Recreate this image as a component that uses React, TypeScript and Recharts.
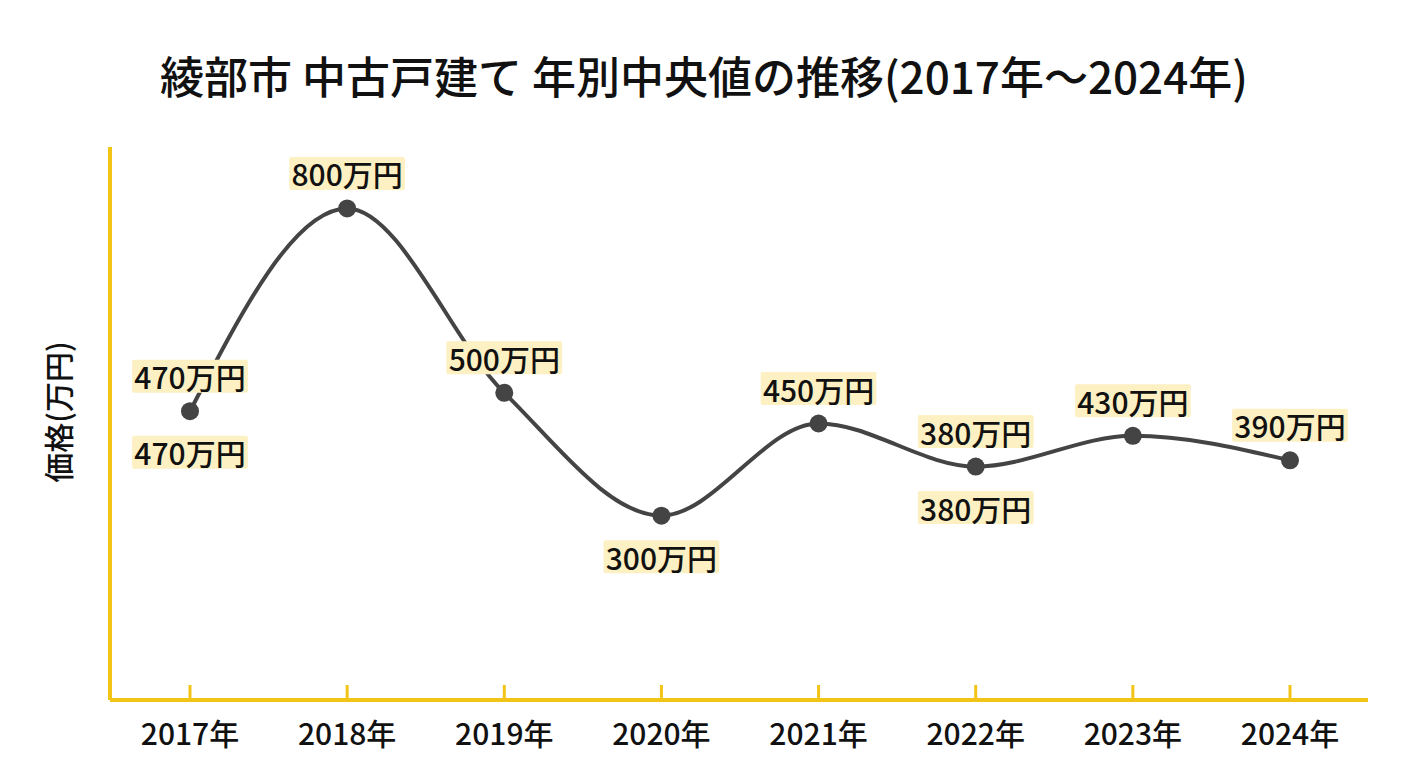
import React from 'react'
import { LineChart, Line, XAxis, YAxis, LabelList } from 'recharts'

const years = ['2017年', '2018年', '2019年', '2020年', '2021年', '2022年', '2023年', '2024年']
const prices = [470, 800, 500, 300, 450, 380, 430, 390]
// which points carry a label above / below the marker
const labelAbove = [true, true, true, false, true, true, true, true]
const labelBelow = [true, false, false, true, false, true, false, false]

const data = years.map((year, i) => ({ year, price: prices[i] }))

const FONT = '"Noto Sans CJK JP", "Noto Sans", sans-serif'
const AXIS = '#F2C417'
const LINE = '#444444'
const LABEL_BG = '#FDF0C2'

const makeLabel = (flags: boolean[], dy: number) => (props: any) => {
  const { x, y, value, index } = props
  if (!flags[index]) return null
  const text = `${value}万円`
  const fs = 30
  const w = String(value).length * fs * 0.553 + fs * 2 + 6
  const h = 33
  const cy = y + dy
  return (
    <g>
      <rect x={x - w / 2} y={cy - h / 2} width={w} height={h} fill={LABEL_BG} rx={2} />
      <text
        x={x}
        y={cy}
        textAnchor="middle"
        dominantBaseline="central"
        fontSize={fs}
        fontWeight={500}
        fill="#111"
        fontFamily={FONT}
      >
        {text}
      </text>
    </g>
  )
}

const YearTick = (props: any) => {
  const { x, y, payload } = props
  return (
    <g>
      <line x1={x} y1={y} x2={x} y2={y - 15} stroke={AXIS} strokeWidth={3} />
      <text
        x={x}
        y={y + 45}
        textAnchor="middle"
        fontSize={30}
        fontWeight={500}
        fill="#111"
        fontFamily={FONT}
      >
        {payload.value}
      </text>
    </g>
  )
}

export default function App() {
  return (
    <div
      style={{
        position: 'absolute',
        left: 0,
        top: 0,
        width: 1408,
        height: 768,
        background: '#fff',
        fontFamily: FONT,
      }}
    >
      <div
        style={{
          position: 'absolute',
          top: 45,
          left: 0,
          width: 1408,
          textAlign: 'center',
          fontSize: 44,
          lineHeight: '60px',
          fontWeight: 500,
          color: '#111',
        }}
      >
        綾部市 中古戸建て 年別中央値の推移(2017年〜2024年)
      </div>
      <div
        style={{
          position: 'absolute',
          left: 57,
          top: 412,
          transform: 'translate(-50%, -50%) rotate(-90deg)',
          fontSize: 30,
          fontWeight: 500,
          color: '#111',
          whiteSpace: 'nowrap',
        }}
      >
        価格(万円)
      </div>
      <LineChart
        width={1408}
        height={768}
        data={data}
        margin={{ top: 147, right: 40, left: 109, bottom: 0 }}
      >
        <XAxis
          dataKey="year"
          height={68}
          padding={{ left: 80, right: 78 }}
          axisLine={{ stroke: AXIS, strokeWidth: 4 }}
          tickLine={false}
          tickSize={0}
          tickMargin={0}
          tick={<YearTick />}
          interval={0}
        />
        <YAxis
          width={1}
          domain={[0, 900]}
          tick={false}
          tickLine={false}
          axisLine={{ stroke: AXIS, strokeWidth: 4 }}
        />
        <Line
          type="monotone"
          dataKey="price"
          stroke={LINE}
          strokeWidth={4}
          dot={{ r: 9, fill: LINE, stroke: LINE, strokeWidth: 0 }}
          activeDot={false}
          isAnimationActive={false}
        >
          <LabelList dataKey="price" content={makeLabel(labelAbove, -35)} />
          <LabelList dataKey="price" content={makeLabel(labelBelow, 41)} />
        </Line>
      </LineChart>
    </div>
  )
}
